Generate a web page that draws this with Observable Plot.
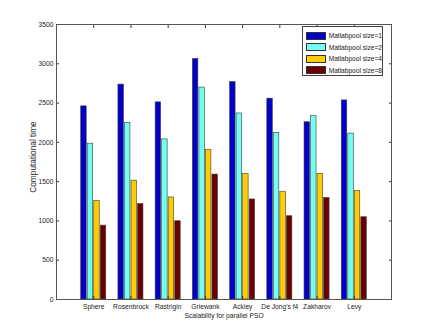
<!DOCTYPE html>
<html>
<head>
<meta charset="utf-8">
<script src="https://cdn.jsdelivr.net/npm/d3@7"></script>
<script src="https://cdn.jsdelivr.net/npm/@observablehq/plot@0.6"></script>
<style>
  html, body { margin: 0; padding: 0; background: #fff; }
  #wrap { position: relative; width: 432px; height: 336px; font-family: "Liberation Sans", Arial, sans-serif; }
  #legend { position: absolute; left: 302px; top: 26px; width: 81px; height: 50px; border: 1px solid #444; background: #fff; box-sizing: border-box; padding: 3px 0 0 3px; }
  .row { display: flex; align-items: center; height: 11.5px; }
  .sw { width: 20px; height: 8px; border: 0.7px solid #333; box-sizing: border-box; margin-right: 3px; }
  .lbl { font-size: 6.6px; color: #222; white-space: nowrap; }
  #ylabel { position: absolute; left: 32.5px; top: 157px; transform: translate(-50%, -50%) rotate(-90deg); font-size: 8.3px; color: #222; white-space: nowrap; line-height: 1; }
</style>
</head>
<body>
<div id="wrap"></div>
<script>
const categories = ["Sphere", "Rosenbrock", "Rastrigin", "Griewank", "Ackley", "De Jong's f4", "Zakharov", "Levy"];
const seriesNames = ["Matlabpool size=1", "Matlabpool size=2", "Matlabpool size=4", "Matlabpool size=8"];
const size1 = [2458, 2735, 2509, 3060, 2767, 2556, 2256, 2534];
const size2 = [1983, 2248, 2038, 2697, 2368, 2120, 2333, 2111];
const size4 = [1253, 1513, 1299, 1906, 1598, 1372, 1598, 1380];
const size8 = [940, 1214, 996, 1590, 1273, 1060, 1291, 1047];
const yTicks = [0, 500, 1000, 1500, 2000, 2500, 3000, 3500];
const colors = ["#0000c8", "#70fff0", "#ffcc00", "#6b0000"];
const yLabel = "Computational time";
const xLabel = "Scalability for parallel PSO";

const seriesValues = [size1, size2, size4, size8];
const groupWidth = 0.7;
const pitch = groupWidth / seriesNames.length;
const barWidth = pitch * 0.84;

const data = [];
categories.forEach((c, ci) => {
  seriesValues.forEach((vals, si) => {
    const start = ci + 1 - groupWidth / 2 + si * pitch + (pitch - barWidth) / 2;
    data.push({cat: c, series: seriesNames[si], value: vals[ci], x1: start, x2: start + barWidth});
  });
});
const xTicks = categories.map((c, i) => i + 1);

const font = "Liberation Sans, Arial, sans-serif";
const chart = Plot.plot({
  width: 432,
  height: 336,
  marginLeft: 56,
  marginRight: 41,
  marginTop: 24,
  marginBottom: 37,
  style: {fontFamily: font, fontSize: "6.7px", color: "#222", background: "#fff"},
  x: {type: "linear", domain: [0, categories.length + 1]},
  y: {domain: [0, 3500]},
  color: {domain: seriesNames, range: colors},
  marks: [
    Plot.rectY(data, {x1: "x1", x2: "x2", y: "value", fill: "series", stroke: "#3a3a3a", strokeWidth: 0.6}),
    Plot.axisY({anchor: "left", ticks: yTicks, tickSize: 0, tickPadding: 3, tickFormat: d => String(d), label: null}),
    Plot.axisY({anchor: "left", ticks: yTicks, tickSize: -3, tickFormat: () => "", label: null, stroke: "#333"}),
    Plot.axisY({anchor: "right", ticks: yTicks, tickSize: -3, tickFormat: () => "", label: null, stroke: "#333"}),
    Plot.axisX({anchor: "bottom", ticks: xTicks, tickSize: 0, tickPadding: 4.5, tickFormat: i => categories[i - 1], label: null}),
    Plot.axisX({anchor: "bottom", ticks: xTicks, tickSize: -3, tickFormat: () => "", label: null, stroke: "#333"}),
    Plot.axisX({anchor: "top", ticks: xTicks, tickSize: -3, tickFormat: () => "", label: null, stroke: "#333"}),
    Plot.frame({stroke: "#555", strokeWidth: 1}),
    Plot.text([xLabel], {frameAnchor: "bottom", dy: 18, fontSize: 6.7, fill: "#222"})
  ]
});

const wrap = document.getElementById("wrap");
wrap.appendChild(chart);
const yl = document.createElement("div");
yl.id = "ylabel";
yl.textContent = yLabel;
wrap.appendChild(yl);
const legend = document.createElement("div");
legend.id = "legend";
seriesNames.forEach((name, i) => {
  const row = document.createElement("div");
  row.className = "row";
  const sw = document.createElement("div");
  sw.className = "sw";
  sw.style.background = colors[i];
  const lbl = document.createElement("span");
  lbl.className = "lbl";
  lbl.textContent = name;
  row.appendChild(sw);
  row.appendChild(lbl);
  legend.appendChild(row);
});
wrap.appendChild(legend);
</script>
</body>
</html>
